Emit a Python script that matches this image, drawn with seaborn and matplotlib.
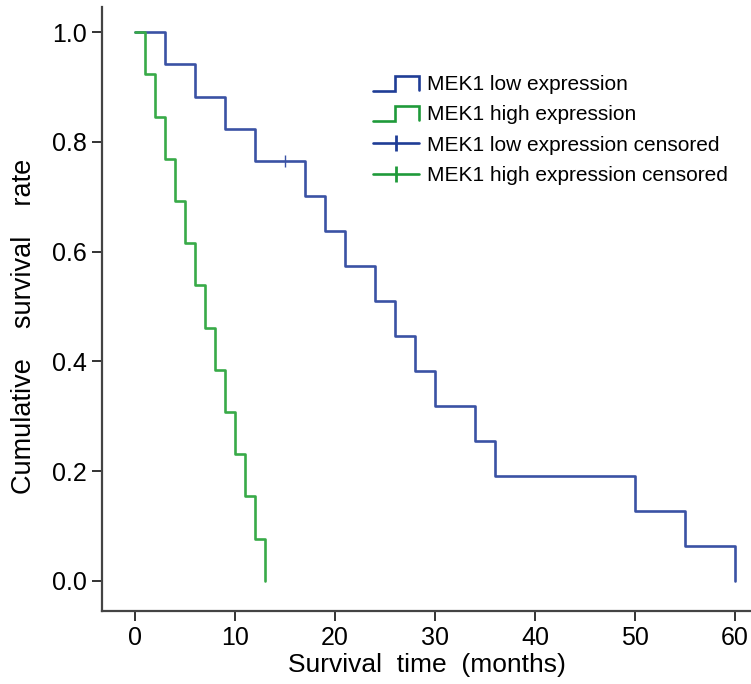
import numpy as np
import pandas as pd
import seaborn as sns
import matplotlib
matplotlib.use('Agg')
import matplotlib.pyplot as plt
from matplotlib.lines import Line2D
from matplotlib.legend_handler import HandlerBase

# survival times (months) and event flags (1 = death, 0 = censored)
low_times = [3, 6, 9, 12, 15, 17, 19, 21, 24, 26, 28, 30, 34, 36, 50, 55, 60]
low_events = [1, 1, 1, 1, 0, 1, 1, 1, 1, 1, 1, 1, 1, 1, 1, 1, 1]
high_times = [1, 2, 3, 4, 5, 6, 7, 8, 9, 10, 11, 12, 13]
high_events = [1, 1, 1, 1, 1, 1, 1, 1, 1, 1, 1, 1, 1]

labels = ['MEK1 low expression', 'MEK1 high expression',
          'MEK1 low expression censored', 'MEK1 high expression censored']
xticks = [0, 10, 20, 30, 40, 50, 60]
yticks = [0.0, 0.2, 0.4, 0.6, 0.8, 1.0]

blue = '#3a52a4'
green = '#38aa48'


def kaplan_meier(times, events):
    at_risk = len(times)
    s = 1.0
    xs, ys, cx, cy = [0.0], [1.0], [], []
    for t, e in sorted(zip(times, events)):
        if e:
            s *= (at_risk - 1) / at_risk
            xs.append(t)
            ys.append(s)
        else:
            cx.append(t)
            cy.append(s)
        at_risk -= 1
    return (pd.DataFrame({'time': xs, 'survival': ys}),
            pd.DataFrame({'time': cx, 'survival': cy}))


class StepHandler(HandlerBase):
    def create_artists(self, legend, orig_handle, xdescent, ydescent,
                       width, height, fontsize, trans):
        x0, y0 = -xdescent, -ydescent
        xs = [x0, x0 + 0.47 * width, x0 + 0.47 * width, x0 + width, x0 + width]
        ys = [y0 - 0.05 * height, y0 - 0.05 * height, y0 + 0.95 * height,
              y0 + 0.95 * height, y0]
        ln = Line2D(xs, ys, color=orig_handle.get_color(),
                    lw=orig_handle.get_linewidth(), transform=trans,
                    solid_joinstyle='miter')
        return [ln]


low_curve, low_cens = kaplan_meier(low_times, low_events)
high_curve, high_cens = kaplan_meier(high_times, high_events)

sns.set_style('ticks')
plt.rcParams['font.family'] = ['Liberation Sans', 'DejaVu Sans']
plt.rcParams['text.color'] = 'black'
plt.rcParams['axes.labelcolor'] = 'black'
plt.rcParams['xtick.color'] = 'black'
plt.rcParams['ytick.color'] = 'black'

fig = plt.figure(figsize=(7.51, 6.84), dpi=100)
ax = fig.add_axes([0.1358, 0.1067, 0.8642, 0.8831])

sns.lineplot(data=low_curve, x='time', y='survival', drawstyle='steps-post',
             color=blue, lw=1.9, estimator=None, sort=False, ax=ax)
sns.lineplot(data=high_curve, x='time', y='survival', drawstyle='steps-post',
             color=green, lw=1.9, estimator=None, sort=False, ax=ax)
ax.plot(low_cens['time'], low_cens['survival'], '|', color=blue,
        markersize=8, markeredgewidth=1.0)
if len(high_cens):
    ax.plot(high_cens['time'], high_cens['survival'], '|', color=green,
            markersize=8, markeredgewidth=1.0)

ax.set_xlim(-3.3, 61.6)
ax.set_ylim(-0.055, 1.046)
ax.set_xticks(xticks)
ax.set_yticks(yticks)
ax.set_yticklabels([f'{v:.1f}' for v in yticks])
ax.tick_params(axis='both', labelsize=18, length=7, width=1.4,
               color='#333333', labelcolor='black', pad=4)

for side in ['top', 'right']:
    ax.spines[side].set_visible(False)
for side in ['left', 'bottom']:
    ax.spines[side].set_linewidth(1.6)
    ax.spines[side].set_color('#444444')

ax.set_xlabel('Survival  time  (months)', fontsize=19, labelpad=2)
ax.set_ylabel('Cumulative    survival    rate', fontsize=19.5)
ax.yaxis.set_label_coords(-0.10, 0.472)

h_low = Line2D([], [], color='#1f3d96', lw=1.9)
h_high = Line2D([], [], color='#1f9a3a', lw=1.9)
h_low_c = Line2D([], [], color='#1f3d96', lw=1.9, marker='|',
                 markersize=12, markeredgewidth=2)
h_high_c = Line2D([], [], color='#1f9a3a', lw=1.9, marker='|',
                  markersize=12, markeredgewidth=2)
ax.legend([h_low, h_high, h_low_c, h_high_c], labels,
          handler_map={h_low: StepHandler(), h_high: StepHandler()},
          loc='upper left', bbox_to_anchor=(0.402, 0.905), frameon=False,
          borderpad=0, fontsize=15, handlelength=2.2, handletextpad=0.4,
          labelspacing=0.55, numpoints=1)

fig.savefig('out.png', dpi=100)
